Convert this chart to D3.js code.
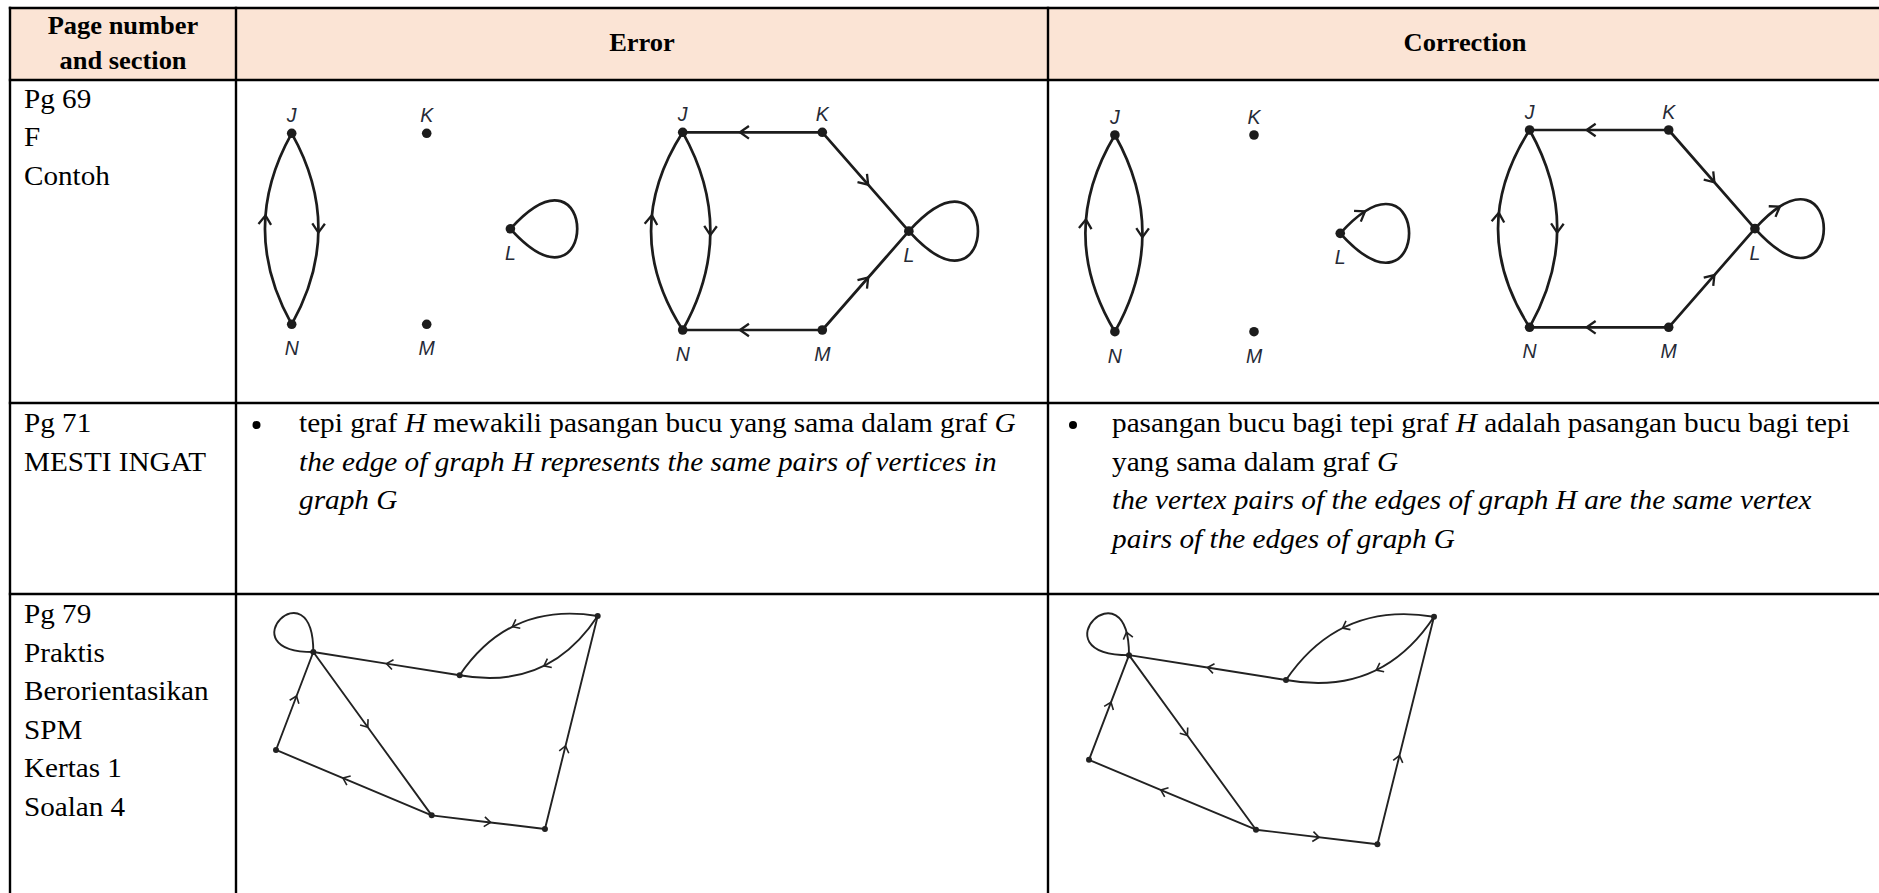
<!DOCTYPE html>
<html>
<head>
<meta charset="utf-8">
<script src="https://cdn.jsdelivr.net/npm/d3@7"></script>
<style>
html,body{margin:0;padding:0;background:#fff;overflow:hidden}
svg{display:block}
text{white-space:pre}
</style>
</head>
<body>
<svg id="chart" width="1879" height="893"></svg>
<script>
// ---- table text ----
const headers = [["Page number", "and section"], ["Error"], ["Correction"]];
const sections = [
  ["Pg 69", "F", "Contoh"],
  ["Pg 71", "MESTI INGAT"],
  ["Pg 79", "Praktis", "Berorientasikan", "SPM", "Kertas 1", "Soalan 4"]
];
// [text, italic]
const errorNote = [
  [["tepi graf ", 0], ["H", 1], [" mewakili pasangan bucu yang sama dalam graf ", 0], ["G", 1]],
  [["the edge of graph H represents the same pairs of vertices in", 1]],
  [["graph G", 1]]
];
const correctionNote = [
  [["pasangan bucu bagi tepi graf ", 0], ["H", 1], [" adalah pasangan bucu bagi tepi", 0]],
  [["yang sama dalam graf ", 0], ["G", 1]],
  [["the vertex pairs of the edges of graph H are the same vertex", 1]],
  [["pairs of the edges of graph G", 1]]
];

// ---- graph data (unit coordinates inside each drawing) ----
const jklmnNodes = [
  {id: "J", x: 0, y: 0, lab: "top"},
  {id: "K", x: 1, y: 0, lab: "top"},
  {id: "L", x: 1.62, y: 0.5, lab: "bottom"},
  {id: "M", x: 1, y: 1, lab: "bottom"},
  {id: "N", x: 0, y: 1, lab: "bottom"}
];
const splitEdgesError = [
  {s: "J", t: "N", bend: -0.28, at: 0.52},
  {s: "N", t: "J", bend: -0.28, at: 0.57},
  {s: "L", loop: true, axis: 0, spin: -1, at: null}
];
const splitEdgesCorrection = [
  {s: "J", t: "N", bend: -0.28, at: 0.52},
  {s: "N", t: "J", bend: -0.3, at: 0.57},
  {s: "L", loop: true, axis: 0, spin: -1, at: 0.1}
];
const joinEdgesError = [
  {s: "K", t: "J", at: 0.59},
  {s: "M", t: "N", at: 0.59},
  {s: "K", t: "L", at: 0.53},
  {s: "M", t: "L", at: 0.53},
  {s: "J", t: "N", bend: -0.28, at: 0.52},
  {s: "N", t: "J", bend: -0.32, at: 0.58},
  {s: "L", loop: true, axis: 0, spin: -1, at: null}
];
const joinEdgesCorrection = joinEdgesError.map(e => e.loop ? Object.assign({}, e, {at: 0.1}) : e);

const soalanNodes = [
  {id: "A", x: 0.116, y: 0.169},
  {id: "B", x: 0.571, y: 0.278},
  {id: "C", x: 1, y: 0},
  {id: "D", x: 0, y: 0.629},
  {id: "E", x: 0.484, y: 0.936},
  {id: "F", x: 0.836, y: 1}
];
const soalanEdgesError = [
  {s: "B", t: "A", at: 0.5},
  {s: "C", t: "B", bend: 0.32, at: 0.55},
  {s: "C", t: "B", bend: -0.33, at: 0.46},
  {s: "A", t: "E", at: 0.46},
  {s: "D", t: "A", at: 0.55},
  {s: "E", t: "D", at: 0.57},
  {s: "E", t: "F", at: 0.52},
  {s: "F", t: "C", at: 0.39},
  {s: "A", loop: true, axis: -135, spin: 1, at: null}
];
const soalanEdgesCorrection = soalanEdgesError.map(e => e.loop ? Object.assign({}, e, {at: 0.1}) : e);

// ---- layout ----
const colX = [10, 236, 1048, 1882];
const rowY = [8, 80, 403, 594, 910];
const serif = "'Liberation Serif','Times New Roman',serif";

const svg = d3.select("#chart");

svg.append("rect")
  .attr("x", colX[0]).attr("y", rowY[0])
  .attr("width", colX[3] - colX[0]).attr("height", rowY[1] - rowY[0])
  .attr("fill", "#fbe4d5");

// source text is a little wider than the font, so stretch it horizontally
function textLine(x, y, segs, size, weight, anchor, sx) {
  const t = svg.append("text")
    .attr("transform", `translate(${x},${y}) scale(${sx},1)`)
    .attr("font-family", serif)
    .attr("font-size", size)
    .attr("font-weight", weight || "normal")
    .attr("text-anchor", anchor || "start")
    .attr("fill", "#000");
  segs.forEach(([s, it]) => t.append("tspan").attr("font-style", it ? "italic" : "normal").text(s));
}

// header
const headBase = [[33.5, 69], [50.5], [50.5]];
headers.forEach((lines, i) => {
  const cx = (colX[i] + colX[i + 1]) / 2;
  lines.forEach((l, j) => textLine(cx, headBase[i][j], [[l, 0]], 24.5, "bold", "middle", 1.08));
});

// first column
const firstBase = [107.7, 432.3, 623.3];
const lineGap = 38.5;
sections.forEach((lines, i) => {
  lines.forEach((l, j) => textLine(24, firstBase[i] + j * lineGap, [[l, 0]], 26.5, "normal", "start", 1.1));
});

// row 2 notes
function note(lines, bx, tx) {
  svg.append("circle").attr("cx", bx).attr("cy", 425).attr("r", 4).attr("fill", "#000");
  lines.forEach((segs, j) => textLine(tx, 432.3 + j * lineGap, segs, 26.5, "normal", "start", 1.105));
}
note(errorNote, 256.5, 299);
note(correctionNote, 1073, 1112);

// ---- graph drawing ----
function cubicAt(P, t) {
  const u = 1 - t;
  const a = u * u * u, b = 3 * u * u * t, c = 3 * u * t * t, d = t * t * t;
  return [a * P[0][0] + b * P[1][0] + c * P[2][0] + d * P[3][0],
          a * P[0][1] + b * P[1][1] + c * P[2][1] + d * P[3][1]];
}
function cubicTan(P, t) {
  const u = 1 - t;
  const a = -3 * u * u, b = 3 * u * u - 6 * u * t, c = 6 * u * t - 3 * t * t, d = 3 * t * t;
  const x = a * P[0][0] + b * P[1][0] + c * P[2][0] + d * P[3][0];
  const y = a * P[0][1] + b * P[1][1] + c * P[2][1] + d * P[3][1];
  const l = Math.hypot(x, y);
  return [x / l, y / l];
}

function drawGraph(nodes, edges, box, st) {
  const g = svg.append("g");
  const x = d3.scaleLinear().domain([0, 1]).range([box.x, box.x + box.w]);
  const y = d3.scaleLinear().domain([0, 1]).range([box.y, box.y + box.h]);
  const pos = {};
  nodes.forEach(n => pos[n.id] = [x(n.x), y(n.y)]);

  edges.forEach(e => {
    const s = pos[e.s];
    let P;
    if (e.loop) {
      const th = e.axis * Math.PI / 180;
      const u = [Math.cos(th), Math.sin(th)];
      const v = [-Math.sin(th) * e.spin, Math.cos(th) * e.spin];
      const a = st.loopA * box.w, b = st.loopB * box.w;
      P = [s, [s[0] + a * u[0] + b * v[0], s[1] + a * u[1] + b * v[1]],
              [s[0] + a * u[0] - b * v[0], s[1] + a * u[1] - b * v[1]], s];
    } else {
      const t = pos[e.t];
      const dx = t[0] - s[0], dy = t[1] - s[1];
      const bend = e.bend || 0;
      const q = [(s[0] + t[0]) / 2 - dy * bend, (s[1] + t[1]) / 2 + dx * bend];
      P = [s, [s[0] + 2 / 3 * (q[0] - s[0]), s[1] + 2 / 3 * (q[1] - s[1])],
              [t[0] + 2 / 3 * (q[0] - t[0]), t[1] + 2 / 3 * (q[1] - t[1])], t];
    }
    const p = d3.path();
    p.moveTo(P[0][0], P[0][1]);
    p.bezierCurveTo(P[1][0], P[1][1], P[2][0], P[2][1], P[3][0], P[3][1]);
    g.append("path").attr("d", p.toString())
      .attr("fill", "none").attr("stroke", st.color).attr("stroke-width", st.lw)
      .attr("stroke-linecap", "round");

    if (e.at != null) {
      const tip = cubicAt(P, e.at), tg = cubicTan(P, e.at);
      const ang = st.headAng * Math.PI / 180, L = st.headLen;
      const arm = sgn => {
        const c = Math.cos(sgn * ang), sn = Math.sin(sgn * ang);
        const rx = tg[0] * c - tg[1] * sn, ry = tg[0] * sn + tg[1] * c;
        return [tip[0] - L * rx, tip[1] - L * ry];
      };
      const a1 = arm(1), a2 = arm(-1);
      const h = d3.path();
      h.moveTo(a1[0], a1[1]); h.lineTo(tip[0], tip[1]); h.lineTo(a2[0], a2[1]);
      g.append("path").attr("d", h.toString())
        .attr("fill", "none").attr("stroke", st.color).attr("stroke-width", st.headLw)
        .attr("stroke-linejoin", "miter");
    }
  });

  g.selectAll("circle.v").data(nodes).enter().append("circle")
    .attr("class", "v")
    .attr("cx", d => pos[d.id][0]).attr("cy", d => pos[d.id][1])
    .attr("r", st.r).attr("fill", st.color);

  if (st.labels) {
    g.selectAll("text.lab").data(nodes).enter().append("text")
      .attr("class", "lab")
      .attr("x", d => pos[d.id][0])
      .attr("y", d => pos[d.id][1] + (d.lab === "top" ? -11 : 31))
      .attr("text-anchor", "middle")
      .attr("font-family", "'Liberation Sans',Arial,sans-serif")
      .attr("font-style", "italic")
      .attr("font-size", 19.5)
      .attr("fill", "#262a36")
      .text(d => d.id);
  }
}

const bigStyle = {color: "#1c1c1c", lw: 2.7, headLw: 2.3, r: 4.8, headLen: 11, headAng: 35, loopA: 0.66, loopB: 0.73, labels: true};
const smallStyle = {color: "#222", lw: 1.9, headLw: 1.6, r: 3, headLen: 8, headAng: 38, loopA: 0.193, loopB: 0.193, labels: false};

drawGraph(jklmnNodes, splitEdgesError, {x: 291.7, y: 133.3, w: 135, h: 191}, bigStyle);
drawGraph(jklmnNodes, joinEdgesError, {x: 682.7, y: 132.3, w: 139.6, h: 197.7}, bigStyle);
drawGraph(jklmnNodes, splitEdgesCorrection, {x: 1114.9, y: 135, w: 139.1, h: 196.7}, bigStyle);
drawGraph(jklmnNodes, joinEdgesCorrection, {x: 1529.6, y: 130, w: 139.1, h: 197.3}, bigStyle);

drawGraph(soalanNodes, soalanEdgesError, {x: 276, y: 616, w: 321.7, h: 213}, smallStyle);
drawGraph(soalanNodes, soalanEdgesCorrection, {x: 1089, y: 616.7, w: 345, h: 227.6}, smallStyle);

// ---- table rules ----
const rules = svg.append("g").attr("stroke", "#000").attr("stroke-width", 2.4);
rowY.slice(0, 4).forEach(yy => rules.append("line").attr("x1", colX[0] - 1.2).attr("x2", colX[3]).attr("y1", yy).attr("y2", yy));
colX.forEach(xx => rules.append("line").attr("x1", xx).attr("x2", xx).attr("y1", rowY[0] - 1.2).attr("y2", rowY[4]));
</script>
</body>
</html>
